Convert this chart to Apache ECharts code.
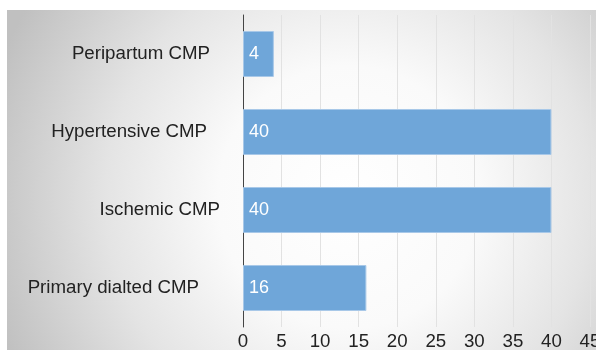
<!DOCTYPE html>
<html>
<head>
<meta charset="utf-8">
<script src="https://cdn.jsdelivr.net/npm/echarts@6/dist/echarts.min.js"></script>
<style>
html,body{margin:0;padding:0;background:#fff;}
#c{width:596px;height:350px;}
</style>
</head>
<body>
<div id="c"></div>
<script>
const categories = ['Primary dialted CMP', 'Ischemic CMP', 'Hypertensive CMP', 'Peripartum CMP'];
const values = [16, 40, 40, 4];
const xTicks = { min: 0, max: 45, interval: 5 };
const labelPad = [21, 0, 13, 10];

const rich = {};
labelPad.forEach((p, i) => {
  rich['c' + i] = { fontSize: 18.7, color: '#222', fontFamily: 'Liberation Sans', padding: [0, p, 0, 0] };
});

const chart = echarts.init(document.getElementById('c'));
chart.setOption({
  animation: false,
  graphic: [{
    type: 'rect', z: -10, silent: true,
    shape: { x: 7, y: 10, width: 589, height: 340 },
    style: {
      fill: {
        type: 'radial', x: 0.58, y: 0.55, r: 1.1,
        colorStops: [
          { offset: 0, color: '#ffffff' },
          { offset: 0.35, color: '#fafafa' },
          { offset: 0.65, color: '#e4e4e4' },
          { offset: 1, color: '#c0c0c0' }
        ]
      }
    }
  }],
  grid: { left: 243, right: 6, top: 15, bottom: 23, containLabel: false, outerBoundsMode: 'none' },
  xAxis: {
    type: 'value', min: xTicks.min, max: xTicks.max, interval: xTicks.interval,
    axisLine: { show: false }, axisTick: { show: false },
    splitLine: { show: true, lineStyle: { color: '#e2e2e2', width: 1 } },
    axisLabel: { fontSize: 18.7, color: '#222', fontFamily: 'Liberation Sans', margin: 5 }
  },
  yAxis: {
    type: 'category', data: categories,
    axisLine: { show: true, lineStyle: { color: '#444', width: 1 } },
    axisTick: { show: false },
    splitLine: { show: false },
    axisLabel: {
      margin: 23,
      formatter: (v, i) => '{c' + i + '|' + v + '}',
      rich: rich
    }
  },
  series: [{
    type: 'bar', data: values, barCategoryGap: '41%',
    itemStyle: { color: '#6fa6d9', borderColor: '#a8c8e8', borderWidth: 1 },
    label: { show: true, position: 'insideLeft', distance: 6, color: '#fff', fontSize: 18, fontFamily: 'Liberation Sans' }
  }]
});
</script>
</body>
</html>
